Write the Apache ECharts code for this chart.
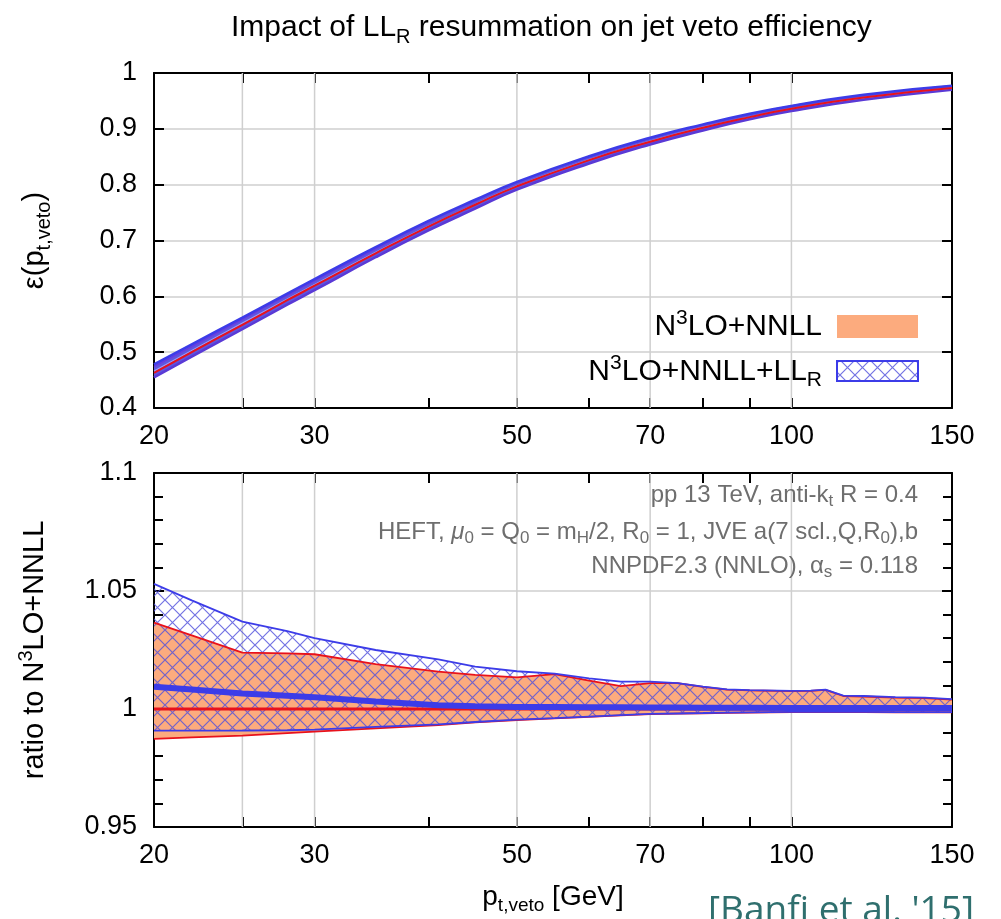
<!DOCTYPE html>
<html><head><meta charset="utf-8">
<script src="https://cdn.jsdelivr.net/npm/echarts@6/dist/echarts.min.js"></script>
<style>html,body{margin:0;padding:0;background:#fff}#c{width:1001px;height:919px}</style>
</head><body><div id="c"></div>
<script>
// ---- axis ticks ----
const xTicks = [20, 25, 30, 40, 50, 60, 70, 80, 90, 100, 150];
const xLabels = [20, 30, 50, 70, 100, 150];
const xGrid = [25, 30, 50, 70, 100];

// ---- top panel: jet veto efficiency ----
const effX      = [20, 22, 25, 28, 30, 35, 40, 45, 50, 60, 70, 80, 90, 100, 120, 150];
const effLo     = [0.455, 0.492, 0.541, 0.585, 0.611, 0.670, 0.718, 0.757, 0.791, 0.838, 0.872, 0.897, 0.917, 0.932, 0.952, 0.970];
const effNNLLHi = [0.474, 0.510, 0.559, 0.602, 0.628, 0.685, 0.733, 0.771, 0.804, 0.850, 0.883, 0.907, 0.926, 0.941, 0.960, 0.977];
const effLLRHi  = [0.478, 0.514, 0.562, 0.605, 0.631, 0.688, 0.735, 0.773, 0.805, 0.851, 0.884, 0.908, 0.927, 0.941, 0.961, 0.977];
const effNNLL   = [0.463, 0.500, 0.549, 0.593, 0.619, 0.677, 0.725, 0.764, 0.797, 0.844, 0.877, 0.902, 0.921, 0.936, 0.956, 0.973];
const effLLR    = [0.466, 0.503, 0.552, 0.595, 0.621, 0.679, 0.726, 0.765, 0.798, 0.845, 0.878, 0.903, 0.921, 0.936, 0.956, 0.973];

// ---- bottom panel: ratio to N3LO+NNLL ----
const ratioX  = [20, 22, 25, 28, 30, 35, 41, 45, 50, 55, 60, 65, 70, 75, 80, 85, 90, 100, 105, 109, 114, 120, 130, 140, 150];
const llrHiR  = [1.053, 1.046, 1.037, 1.033, 1.030, 1.025, 1.021, 1.018, 1.016, 1.015, 1.013, 1.0116, 1.0116, 1.011, 1.0095, 1.0083, 1.008, 1.0077, 1.0078, 1.0082, 1.0057, 1.0055, 1.005, 1.0048, 1.0042];
const nnllHiR = [1.0366, 1.0312, 1.0239, 1.0236, 1.0232, 1.019, 1.0158, 1.0145, 1.0134, 1.0148, 1.012, 1.0097, 1.011, 1.011, 1.0094, 1.0082, 1.0079, 1.0076, 1.0077, 1.0081, 1.0055, 1.0053, 1.0048, 1.0046, 1.004];
const nnllLoR = [0.9873, 0.988, 0.9887, 0.9898, 0.9904, 0.9918, 0.9932, 0.9943, 0.9953, 0.996, 0.9967, 0.9973, 0.9978, 0.998, 0.9982, 0.9984, 0.9985, 0.9987, 0.9987, 0.9987, 0.9987, 0.9987, 0.9986, 0.9986, 0.9986];
const llrLoR  = [0.9908, 0.9908, 0.9909, 0.991, 0.9913, 0.9924, 0.9935, 0.9945, 0.9955, 0.9961, 0.9968, 0.9974, 0.9979, 0.9981, 0.9983, 0.9985, 0.9986, 0.9988, 0.9988, 0.9988, 0.9988, 0.9988, 0.9987, 0.9987, 0.9987];
const llrCR   = [1.0094, 1.0083, 1.0066, 1.0056, 1.005, 1.0032, 1.0016, 1.0012, 1.0009, 1.0008, 1.0007, 1.0007, 1.0006, 1.0006, 1.0005, 1.0005, 1.0005, 1.0004, 1.0004, 1.0004, 1.0004, 1.0004, 1.0004, 1.0004, 1.0004];
const nnllCR  = [1, 1, 1, 1, 1, 1, 1, 1, 1, 1, 1, 1, 1, 1, 1, 1, 1, 1, 1, 1, 1, 1, 1, 1, 1];

// ---- styles ----
const FONT = 'Liberation Sans';
const ORANGE = '#fcab7e';
const RED = '#e8121c';
const BLUE = '#3c3ce8';
const GRIDC = '#cfcfcf';

function hatchCanvas() {
  const c = document.createElement('canvas');
  c.width = 15; c.height = 15;
  const g = c.getContext('2d');
  g.strokeStyle = 'rgba(80,80,220,0.8)';
  g.lineWidth = 1.2;
  g.beginPath();
  g.moveTo(-1, -1); g.lineTo(16, 16);
  g.moveTo(-1, 16); g.lineTo(16, -1);
  g.stroke();
  return c;
}
const HATCH = { image: hatchCanvas(), repeat: 'repeat' };

const pairs = (xs, ys) => xs.map((x, i) => [x, ys[i]]);

// filled band between lo and hi, built with the axes' own coordinate mapping
function band(idx, xs, lo, hi, fill) {
  return { type: 'custom', xAxisIndex: idx * 2, yAxisIndex: idx * 2, data: [[xs[0], lo[0]]], silent: true, z: 2,
    renderItem: (params, api) => {
      const up = xs.map((x, i) => api.coord([x, hi[i]]));
      const dn = xs.map((x, i) => api.coord([x, lo[i]])).reverse();
      return { type: 'polygon', shape: { points: up.concat(dn) }, style: { fill } };
    } };
}
function line(idx, xs, ys, color, width, z, smooth) {
  return { type: 'line', xAxisIndex: idx * 2, yAxisIndex: idx * 2, data: pairs(xs, ys), symbol: 'none',
    smooth: smooth || false, lineStyle: { color, width }, silent: true, z: z || 3 };
}
function vgrid(idx, ymin, ymax) {
  return xGrid.map(g => ({ type: 'line', xAxisIndex: idx * 2, yAxisIndex: idx * 2, data: [[g, ymin], [g, ymax]],
    symbol: 'none', lineStyle: { color: GRIDC, width: 1.5 }, silent: true, z: 1 }));
}

const tickFont = { fontFamily: FONT, fontSize: 27, color: '#000' };
function xAxes(gridIndex) {
  const common = { type: 'log', logBase: 10, min: 20, max: 150, gridIndex,
    axisLine: { show: true, onZero: false, lineStyle: { color: '#000', width: 2 } },
    axisTick: { show: true, inside: true, length: 10, customValues: xTicks, lineStyle: { color: '#000', width: 2 } },
    splitLine: { show: false }, minorTick: { show: false } };
  return [
    Object.assign({}, common, { position: 'bottom',
      axisLabel: Object.assign({ show: true, margin: 15, customValues: xLabels, formatter: v => String(Math.round(v)) }, tickFont) }),
    Object.assign({}, common, { position: 'top', axisLabel: { show: false } })
  ];
}
function yAxes(gridIndex, min, max, interval, minor, name, nameGap) {
  const common = { type: 'value', min, max, interval, gridIndex,
    axisLine: { show: true, onZero: false, lineStyle: { color: '#000', width: 2 } },
    axisTick: { show: true, inside: true, length: 10, lineStyle: { color: '#000', width: 2 } },
    minorTick: { show: minor, splitNumber: 5, length: 9, lineStyle: { color: '#000', width: 2 } } };
  return [
    Object.assign({}, common, { position: 'left',
      splitLine: { show: true, lineStyle: { color: GRIDC, width: 1.5 } },
      axisLabel: Object.assign({ show: true, margin: 17 }, tickFont),
      name, nameLocation: 'middle', nameGap, nameRotate: 90,
      nameTextStyle: { fontFamily: FONT, fontSize: 29, color: '#000',
        rich: { sub: { fontFamily: FONT, fontSize: 20, verticalAlign: 'bottom', lineHeight: 22 },
                sup: { fontFamily: FONT, fontSize: 20, verticalAlign: 'top', lineHeight: 22 },
                n: { fontFamily: FONT, fontSize: 29, lineHeight: 38 } } } }),
    Object.assign({}, common, { position: 'right', splitLine: { show: false }, axisLabel: { show: false } })
  ];
}

const xa = xAxes(0).concat(xAxes(1));
xa[2].name = '{n|p}{sub|t,veto}{n| [GeV]}';
xa[2].nameLocation = 'middle';
xa[2].nameGap = 52;
xa[2].nameTextStyle = { fontFamily: FONT, fontSize: 28, color: '#000',
  rich: { sub: { fontFamily: FONT, fontSize: 19, verticalAlign: 'bottom', lineHeight: 20 },
          n: { fontFamily: FONT, fontSize: 28, lineHeight: 36 } } };

const ya = yAxes(0, 0.4, 1, 0.1, false, '{n|ε(p}{sub|t,veto}{n|)}', 100)
  .concat(yAxes(1, 0.95, 1.1, 0.05, true, '{n|ratio to N}{sup|3}{n|LO+NNLL}', 100));

const S = true;
const series = [].concat(
  vgrid(0, 0.4, 1),
  [band(0, effX, effLo, effNNLLHi, ORANGE),
   band(0, effX, effLo, effLLRHi, 'rgba(76,76,234,0.9)'),
   line(0, effX, effLo, '#5a3ad6', 2.5, 3, S), line(0, effX, effNNLLHi, '#6a3ae0', 1.5, 3, S),
   line(0, effX, effLLRHi, BLUE, 2.5, 3, S),
   line(0, effX, effLLR, '#9a9af8', 1.2, 3, S), line(0, effX, effNNLL, RED, 2, 4, S)],
  vgrid(1, 0.95, 1.1),
  [band(1, ratioX, nnllLoR, nnllHiR, ORANGE),
   band(1, ratioX, llrLoR, llrHiR, HATCH),
   line(1, ratioX, nnllLoR, RED, 1.8), line(1, ratioX, nnllHiR, RED, 1.8),
   line(1, ratioX, llrLoR, BLUE, 1.8), line(1, ratioX, llrHiR, BLUE, 1.8),
   line(1, ratioX, nnllCR, RED, 3, 4), line(1, ratioX, llrCR, BLUE, 6, 5)]
);

const annStyle = { fontFamily: FONT, fontSize: 24, fill: '#6e6e6e', align: 'right', verticalAlign: 'middle',
  rich: { sub: { fontFamily: FONT, fontSize: 17, fill: '#6e6e6e', verticalAlign: 'bottom', lineHeight: 18 },
          it: { fontFamily: FONT, fontSize: 24, fontStyle: 'italic', fill: '#6e6e6e', lineHeight: 30 },
          n: { fontFamily: FONT, fontSize: 24, fill: '#6e6e6e', lineHeight: 30 } } };
const legStyle = { fontFamily: FONT, fontSize: 30, fill: '#000', align: 'right', verticalAlign: 'middle',
  rich: { sub: { fontFamily: FONT, fontSize: 21, fill: '#000', verticalAlign: 'bottom', lineHeight: 20 },
          sup: { fontFamily: FONT, fontSize: 21, fill: '#000', verticalAlign: 'top', lineHeight: 20 },
          n: { fontFamily: FONT, fontSize: 30, fill: '#000', lineHeight: 38 } } };

const option = {
  animation: false,
  backgroundColor: '#fff',
  title: { text: '{n|Impact of LL}{sub|R}{n| resummation on jet veto efficiency}', left: 226, top: 4,
    textStyle: { fontFamily: FONT, fontSize: 30, fontWeight: 'normal', color: '#000',
      rich: { n: { fontFamily: FONT, fontSize: 30, color: '#000', lineHeight: 38 },
              sub: { fontFamily: FONT, fontSize: 20, color: '#000', verticalAlign: 'bottom', lineHeight: 20 } } } },
  grid: [
    { left: 154, top: 73, width: 798, height: 335, containLabel: false },
    { left: 154, top: 473, width: 798, height: 354, containLabel: false }
  ],
  xAxis: xa,
  yAxis: ya,
  series,
  graphic: [
    { type: 'rect', shape: { x: 837, y: 315, width: 81, height: 23 }, style: { fill: ORANGE }, z: 100 },
    { type: 'text', x: 822, y: 327, z: 100, style: Object.assign({ text: '{n|N}{sup|3}{n|LO+NNLL}' }, legStyle) },
    { type: 'rect', shape: { x: 837, y: 361, width: 81, height: 20 }, style: { fill: HATCH, stroke: BLUE, lineWidth: 2 }, z: 100 },
    { type: 'text', x: 822, y: 372, z: 100, style: Object.assign({ text: '{n|N}{sup|3}{n|LO+NNLL+LL}{sub|R}' }, legStyle) },
    { type: 'text', x: 918, y: 495, z: 100, style: Object.assign({ text: '{n|pp 13 TeV, anti-k}{sub|t}{n| R = 0.4}' }, annStyle) },
    { type: 'text', x: 918, y: 532, z: 100, style: Object.assign({ text: '{n|HEFT, }{it|μ}{sub|0}{n| = Q}{sub|0}{n| = m}{sub|H}{n|/2, R}{sub|0}{n| = 1, JVE a(7 scl.,Q,R}{sub|0}{n|),b}' }, annStyle) },
    { type: 'text', x: 918, y: 566, z: 100, style: Object.assign({ text: '{n|NNPDF2.3 (NNLO), α}{sub|s}{n| = 0.118}' }, annStyle) },
    { type: 'text', x: 708, y: 893, z: 100, style: { text: "[Banfi et al. '15]", fontFamily: 'Open Sans', fontSize: 37, fill: '#2f6f6e', align: 'left', verticalAlign: 'top' } }
  ]
};

const chart = echarts.init(document.getElementById('c'), null, { renderer: 'canvas' });
chart.setOption(option);
</script>
</body></html>
